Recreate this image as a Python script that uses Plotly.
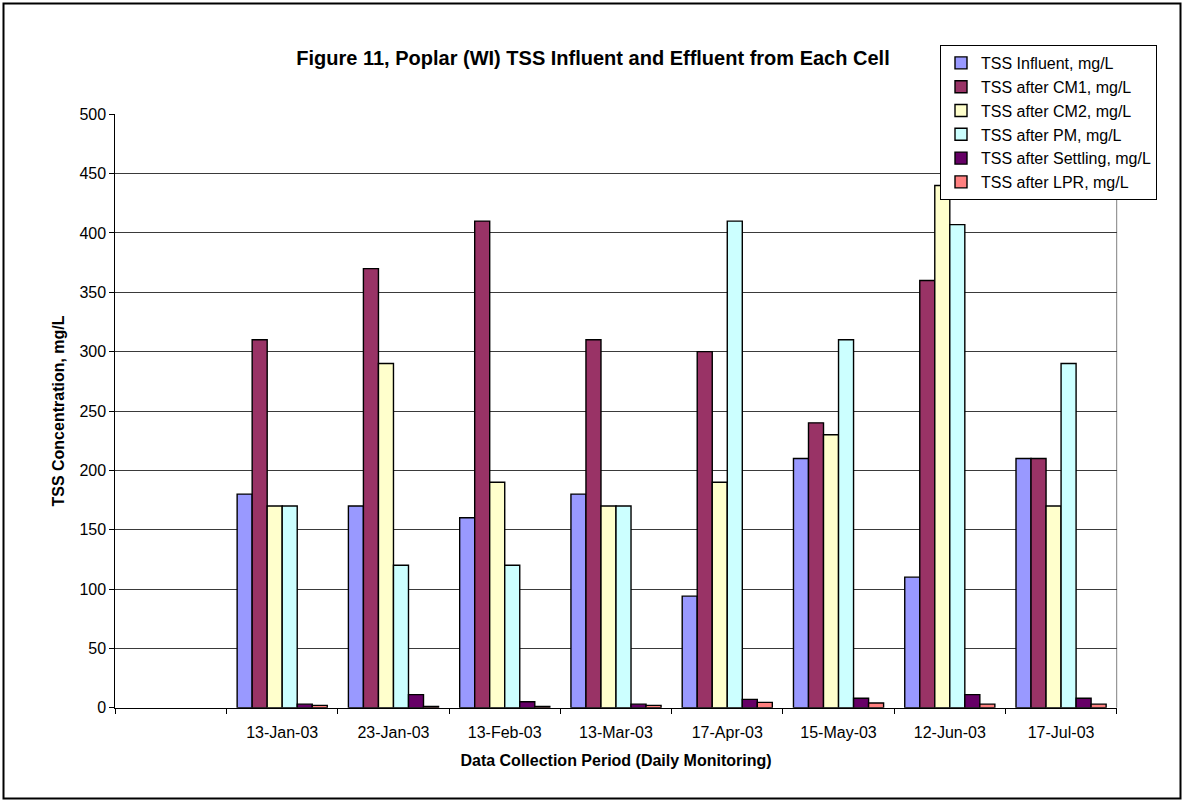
import plotly.graph_objects as go

W, H = 1183, 801

# Sampling dates (the leading blank slot is an empty category)
categories = [" ", "13-Jan-03", "23-Jan-03", "13-Feb-03", "13-Mar-03",
              "17-Apr-03", "15-May-03", "12-Jun-03", "17-Jul-03"]

tss_influent = [None, 180, 170, 160, 180, 94, 210, 110, 210]
tss_cm1 = [None, 310, 370, 410, 310, 300, 240, 360, 210]
tss_cm2 = [None, 170, 290, 190, 170, 190, 230, 440, 170]
tss_pm = [None, 170, 120, 120, 170, 410, 310, 407, 290]
tss_settling = [None, 3, 11, 5, 3, 7, 8, 11, 8]
tss_lpr = [None, 2, 1, 1, 2, 4.5, 4, 3, 3]

series_names = ["TSS Influent, mg/L", "TSS after CM1, mg/L", "TSS after CM2, mg/L",
                "TSS after PM, mg/L", "TSS after Settling, mg/L", "TSS after LPR, mg/L"]
series_values = [tss_influent, tss_cm1, tss_cm2, tss_pm, tss_settling, tss_lpr]
series_colors = ["#9999FF", "#993366", "#FFFFCC", "#CCFFFF", "#660066", "#FF8080"]

y_ticks = [0, 50, 100, 150, 200, 250, 300, 350, 400, 450, 500]

FONT = "Liberation Sans, Arial, sans-serif"

fig = go.Figure()
for name, vals, col in zip(series_names, series_values, series_colors):
    fig.add_trace(go.Bar(
        x=categories, y=vals, name=name,
        marker=dict(color=col, line=dict(color="#000000", width=1.4)),
    ))

# plot area placed in pixel terms (margins are zero, so paper = page)
x0, x1 = 115.3, 1116.7
y_top, y_bot = 114.3, 707.7

fig.update_layout(
    width=W, height=H,
    margin=dict(l=0, r=0, t=0, b=0),
    paper_bgcolor="white", plot_bgcolor="white",
    font=dict(family=FONT, size=16, color="#000000"),
    barmode="group", bargap=0.19, bargroupgap=0,
    title=dict(
        text="<b>Figure 11, Poplar (WI) TSS Influent and Effluent from Each Cell</b>",
        x=593 / W, y=1 - 58 / H, xanchor="center", yanchor="middle",
        font=dict(family=FONT, size=20, color="#000000"),
    ),
    xaxis=dict(
        domain=[x0 / W, x1 / W],
        type="category", categoryorder="array", categoryarray=categories,
        showgrid=False, showline=True, linecolor="#000000", linewidth=1,
        ticks="outside", ticklen=5, tickcolor="#000000", tickson="boundaries",
        ticklabelstandoff=10,
        tickfont=dict(family=FONT, size=16),
        title=dict(text="<b>Data Collection Period (Daily Monitoring)</b>",
                   font=dict(family=FONT, size=16), standoff=14),
        automargin=False, fixedrange=True,
    ),
    yaxis=dict(
        domain=[1 - y_bot / H, 1 - y_top / H],
        range=[0, 500], tickvals=y_ticks,
        showgrid=True, gridcolor="#3a3a3a", gridwidth=1,
        showline=True, linecolor="#000000", linewidth=1,
        ticks="outside", ticklen=5, tickcolor="#000000",
        tickfont=dict(family=FONT, size=16),
        title=dict(text="<b>TSS Concentration, mg/L</b>",
                   font=dict(family=FONT, size=16), standoff=10),
        zeroline=False, automargin=False, fixedrange=True,
    ),
    legend=dict(
        x=940 / W, y=1 - 45 / H, xanchor="left", yanchor="top",
        bgcolor="white", bordercolor="#000000", borderwidth=1,
        font=dict(family=FONT, size=16), tracegroupgap=0,
        traceorder="normal",
    ),
    shapes=[
        # right edge of the plot area
        dict(type="line", xref="paper", yref="paper",
             x0=x1 / W, x1=x1 / W, y0=1 - y_bot / H, y1=1 - y_top / H,
             line=dict(color="#808080", width=1), layer="below"),
        # chart frame
        dict(type="rect", xref="paper", yref="paper",
             x0=3.5 / W, x1=1180.5 / W, y0=1 - 798.5 / H, y1=1 - 3.5 / H,
             line=dict(color="#000000", width=2), fillcolor="rgba(0,0,0,0)"),
    ],
)

fig.write_html("out.html", config=dict(displayModeBar=False))
